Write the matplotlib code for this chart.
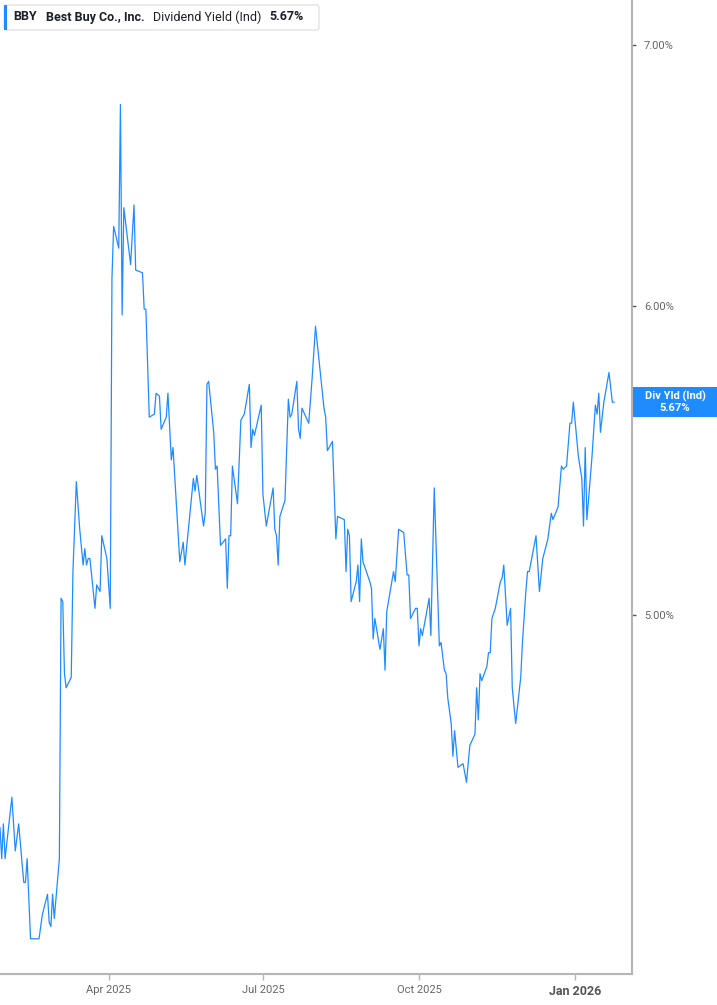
import numpy as np
import pandas as pd
import matplotlib
matplotlib.use("Agg")
import matplotlib.pyplot as plt
import matplotlib.dates as mdates
from matplotlib.ticker import FixedLocator, NullLocator, FuncFormatter
from matplotlib.patches import FancyBboxPatch, Rectangle

plt.rcParams['font.family'] = ['Roboto', 'DejaVu Sans']

# header / tag text
ticker = "BBY"
company = "Best Buy Co., Inc."
metric = "Dividend Yield (Ind)"
tag = "Div Yld (Ind)"

# dividend yield (%)
dates = [
    "2025-01-27", "2025-01-28", "2025-01-29", "2025-01-30",
    "2025-02-03", "2025-02-05", "2025-02-07", "2025-02-10", "2025-02-11", "2025-02-12",
    "2025-02-14", "2025-02-19", "2025-02-21", "2025-02-24", "2025-02-25", "2025-02-26",
    "2025-02-27", "2025-02-28",
    "2025-03-03", "2025-03-04", "2025-03-05", "2025-03-06", "2025-03-07", "2025-03-10",
    "2025-03-11", "2025-03-13", "2025-03-15", "2025-03-17", "2025-03-18", "2025-03-19",
    "2025-03-20", "2025-03-21", "2025-03-24", "2025-03-25", "2025-03-27", "2025-03-28",
    "2025-03-31",
    "2025-04-02", "2025-04-03", "2025-04-04", "2025-04-07", "2025-04-08", "2025-04-09",
    "2025-04-10", "2025-04-14", "2025-04-16", "2025-04-17", "2025-04-21", "2025-04-22",
    "2025-04-23", "2025-04-25", "2025-04-28", "2025-04-29",
    "2025-05-01", "2025-05-02", "2025-05-05", "2025-05-06", "2025-05-08", "2025-05-09",
    "2025-05-13", "2025-05-15", "2025-05-16", "2025-05-19", "2025-05-21", "2025-05-22",
    "2025-05-23", "2025-05-27", "2025-05-28", "2025-05-29", "2025-05-30",
    "2025-06-02", "2025-06-03", "2025-06-04", "2025-06-06", "2025-06-09", "2025-06-10",
    "2025-06-11", "2025-06-12", "2025-06-13", "2025-06-16", "2025-06-18", "2025-06-20",
    "2025-06-23", "2025-06-24", "2025-06-25", "2025-06-26", "2025-06-30",
    "2025-07-01", "2025-07-03", "2025-07-07", "2025-07-08", "2025-07-09", "2025-07-10",
    "2025-07-11", "2025-07-14", "2025-07-16", "2025-07-17", "2025-07-18", "2025-07-21",
    "2025-07-22", "2025-07-23", "2025-07-24", "2025-07-28", "2025-07-30",
    "2025-08-01", "2025-08-06", "2025-08-07", "2025-08-08", "2025-08-11", "2025-08-13",
    "2025-08-14", "2025-08-18", "2025-08-19", "2025-08-20", "2025-08-21", "2025-08-22",
    "2025-08-25", "2025-08-26", "2025-08-27", "2025-08-28", "2025-08-29",
    "2025-09-02", "2025-09-03", "2025-09-04", "2025-09-05", "2025-09-08", "2025-09-10",
    "2025-09-11", "2025-09-12", "2025-09-16", "2025-09-17", "2025-09-19", "2025-09-22",
    "2025-09-24", "2025-09-25", "2025-09-26", "2025-09-29", "2025-09-30",
    "2025-10-01", "2025-10-02", "2025-10-03", "2025-10-07", "2025-10-08", "2025-10-10",
    "2025-10-13", "2025-10-14", "2025-10-16", "2025-10-17", "2025-10-18", "2025-10-20",
    "2025-10-21", "2025-10-22", "2025-10-24", "2025-10-27", "2025-10-29", "2025-10-31",
    "2025-11-03", "2025-11-04", "2025-11-05", "2025-11-06", "2025-11-07", "2025-11-10",
    "2025-11-11", "2025-11-12", "2025-11-13", "2025-11-15", "2025-11-18", "2025-11-19",
    "2025-11-20", "2025-11-22", "2025-11-24", "2025-11-25", "2025-11-27", "2025-11-30",
    "2025-12-01", "2025-12-03", "2025-12-04", "2025-12-05", "2025-12-09", "2025-12-11",
    "2025-12-13", "2025-12-16", "2025-12-18", "2025-12-19", "2025-12-22", "2025-12-24",
    "2025-12-25", "2025-12-27", "2025-12-29", "2025-12-30", "2025-12-31",
    "2026-01-03", "2026-01-05", "2026-01-06", "2026-01-07", "2026-01-08", "2026-01-11",
    "2026-01-13", "2026-01-14", "2026-01-15", "2026-01-16", "2026-01-18", "2026-01-21",
    "2026-01-23", "2026-01-24",
]
yield_pct = [
    4.41, 4.33, 4.42, 4.33,
    4.49, 4.35, 4.42, 4.27, 4.27, 4.33, 4.13, 4.13, 4.19, 4.24, 4.17, 4.16, 4.24, 4.18,
    4.33, 5.05, 5.04, 4.83, 4.79, 4.82, 5.13, 5.41, 5.26, 5.15, 5.20, 5.15, 5.17, 5.17,
    5.02, 5.09, 5.07, 5.24, 5.17,
    5.02, 6.10, 6.29, 6.21, 6.76, 5.97, 6.36, 6.15, 6.37, 6.13, 6.12, 5.99, 5.99, 5.62,
    5.63, 5.70,
    5.69, 5.58, 5.62, 5.70, 5.48, 5.52, 5.16, 5.22, 5.15, 5.31, 5.42, 5.38, 5.43, 5.27,
    5.31, 5.73, 5.74,
    5.57, 5.45, 5.46, 5.21, 5.23, 5.08, 5.24, 5.24, 5.46, 5.34, 5.61, 5.63, 5.73, 5.52,
    5.58, 5.56, 5.66,
    5.37, 5.27, 5.39, 5.26, 5.24, 5.15, 5.30, 5.35, 5.68, 5.62, 5.63, 5.74, 5.58, 5.55,
    5.65, 5.60, 5.75,
    5.93, 5.65, 5.62, 5.51, 5.54, 5.23, 5.30, 5.29, 5.13, 5.26, 5.24, 5.04, 5.10, 5.15,
    5.04, 5.23, 5.16,
    5.10, 5.08, 4.93, 4.99, 4.90, 4.96, 4.84, 5.01, 5.13, 5.10, 5.26, 5.25, 5.12, 5.12,
    4.99, 5.02, 5.02,
    4.91, 4.96, 4.94, 5.05, 4.94, 5.39, 4.91, 4.92, 4.84, 4.83, 4.76, 4.69, 4.60, 4.67,
    4.57, 4.58, 4.53, 4.63,
    4.66, 4.79, 4.70, 4.83, 4.81, 4.85, 4.89, 4.89, 4.99, 5.02, 5.10, 5.11, 5.15, 4.97,
    5.02, 4.79, 4.69, 4.82,
    4.92, 5.07, 5.13, 5.13, 5.24, 5.07, 5.17, 5.23, 5.31, 5.29, 5.33, 5.46, 5.45, 5.46,
    5.60, 5.60, 5.67,
    5.49, 5.42, 5.27, 5.52, 5.29, 5.49, 5.66, 5.63, 5.70, 5.57, 5.67, 5.77, 5.67, 5.67,
]

month_ticks = ["2025-04-01", "2025-07-01", "2025-10-01", "2026-01-01"]
month_labels = ["Apr 2025", "Jul 2025", "Oct 2025", "Jan 2026"]
yield_ticks = [5.0, 6.0, 7.0]

line_blue = '#1E8CFF'
axis_grey = '#b5b5b5'

W, H = 717, 1005
fig = plt.figure(figsize=(W / 100, H / 100), dpi=100)
# plot area: right axis at x~631, bottom axis at y~974 (pixels)
ax = fig.add_axes([0.0, 31 / H, 631.5 / W, 1 - 31 / H])

x = pd.to_datetime(dates)
ax.plot(x, yield_pct, color=line_blue, lw=0.9)

ax.set_yscale('log')
ax.set_ylim(4.045, 7.19)
ax.set_xlim(pd.Timestamp('2025-01-27'), pd.Timestamp('2026-02-03 07:00'))

ax.yaxis.tick_right()
ax.yaxis.set_major_locator(FixedLocator(yield_ticks))
ax.yaxis.set_minor_locator(NullLocator())
ax.yaxis.set_major_formatter(FuncFormatter(lambda v, p: f"{v:.2f}%"))
ax.set_xticks(pd.to_datetime(month_ticks))
ax.set_xticklabels(month_labels)
ax.xaxis.set_minor_locator(NullLocator())

ax.tick_params(axis='x', length=4, width=1, color=axis_grey, labelsize=8,
               labelcolor='#666666', pad=4)
ax.tick_params(axis='y', length=3, width=1, color='#555555', labelsize=8,
               labelcolor='#666666', pad=6, direction='out')
jan = ax.get_xticklabels()[-1]
jan.set_fontweight('bold')
jan.set_fontsize(9)
jan.set_color('#555555')

for s in ['top', 'left']:
    ax.spines[s].set_visible(False)
for s in ['right', 'bottom']:
    ax.spines[s].set_color(axis_grey)
    ax.spines[s].set_linewidth(1.5)

# header box
fig.add_artist(FancyBboxPatch((4 / W, 1 - 30 / H), 315 / W, 25 / H,
                              boxstyle='round,pad=0,rounding_size=0.003',
                              transform=fig.transFigure, fc='white', ec='#e3e3e3', lw=1))
fig.add_artist(Rectangle((3.5 / W, 1 - 30 / H), 3 / W, 25 / H,
                         transform=fig.transFigure, fc=line_blue, ec='none'))
ty = 1 - 17 / H
dark = '#1c1f2a'
fig.text(13 / W, ty, ticker, fontsize=9, fontweight='bold', color=dark, va='center')
fig.text(46 / W, ty, company, fontsize=9, fontweight='bold', color=dark, va='center')
fig.text(153 / W, ty, metric, fontsize=9, color=dark, va='center')
fig.text(269 / W, ty, f"{yield_pct[-1]:.2f}%", fontsize=9, fontweight='bold',
         color=dark, va='center')

# last value tag on the right axis
_, y_disp = ax.transData.transform((mdates.date2num(x[-1]), yield_pct[-1]))
yf = y_disp / fig.bbox.height
fig.add_artist(Rectangle((632.5 / W, yf - 15 / H), (W - 632.5) / W, 30 / H,
                         transform=fig.transFigure, fc=line_blue, ec='none'))
fig.text(675 / W, yf + 6 / H, tag, fontsize=8, fontweight='bold', color='white',
         ha='center', va='center')
fig.text(675 / W, yf - 6 / H, f"{yield_pct[-1]:.2f}%", fontsize=8, fontweight='bold',
         color='white', ha='center', va='center')

fig.savefig('out.png', dpi=100)
